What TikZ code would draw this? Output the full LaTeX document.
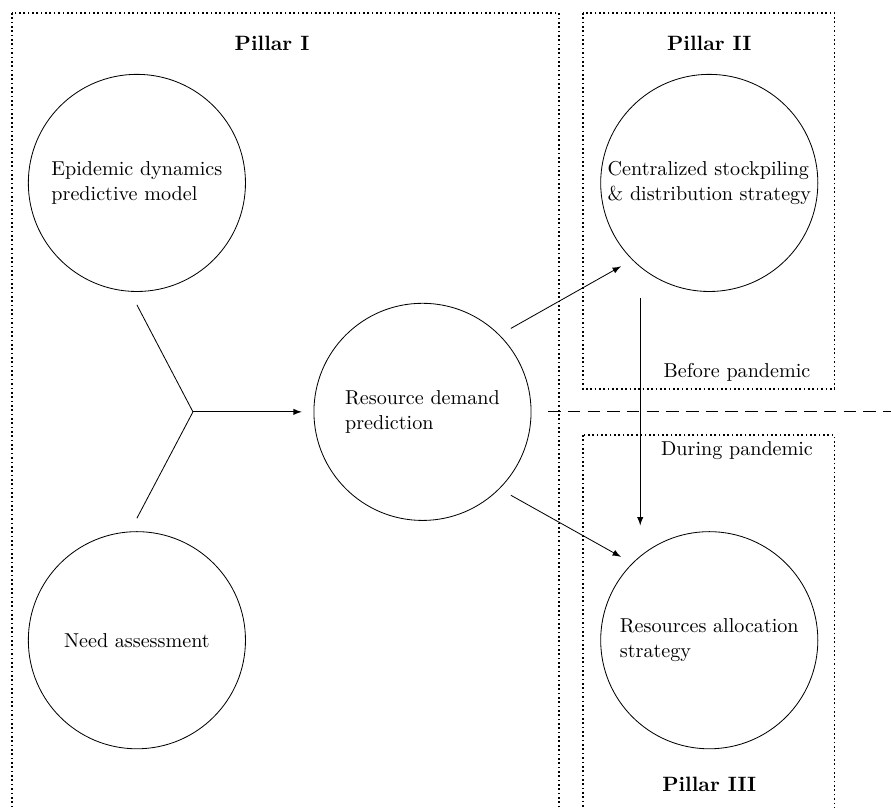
\documentclass[tikz,border=0pt]{standalone}
\usepackage{amsmath}
\usepackage{amssymb}
\begin{document}
\begin{tikzpicture}
	\tikzset{pillar/.style={draw,line width=0.8pt,dash pattern=on 0.8pt off 1.3pt},
		circ/.style={draw,circle,minimum size=3.68cm,inner sep=0pt,align=left,font=\fontsize{9.7}{12.2}\selectfont},
		link/.style={->,>=latex,shorten <=0.22cm,shorten >=0.22cm}}
	\useasboundingbox (0,0) rectangle (15.1,-13.69);
	% pillar boxes and time split
	\draw[pillar] (0.2,-0.22) rectangle (9.47,-14.2);
	\draw[pillar] (9.88,-0.22) rectangle (14.14,-6.59);
	\draw[pillar] (9.88,-7.37) rectangle (14.14,-14.2);
	\draw[dash pattern=on 6pt off 3.5pt] (9.29,-6.98) -- (15.3,-6.98);
	\node (t1) at (4.61,-0.73){\textbf{Pillar I}};
	\node (t2) at (12.02,-0.73){\textbf{Pillar II}};
	\node (t3) at (12.02,-13.29){\textbf{Pillar III}};
	\node[font=\fontsize{9.7}{12}\selectfont] (bp) at (12.49,-6.31){Before pandemic};
	\node[font=\fontsize{9.7}{12}\selectfont] (dp) at (12.49,-7.64){During pandemic};
	% models
	\node[circ] (epi) at (2.32,-3.10){Epidemic dynamics\\predictive model};
	\node[circ] (need) at (2.32,-10.85){Need assessment};
	\node[circ] (dem) at (7.16,-6.98){Resource demand\\prediction};
	\node[circ] (stock) at (12.02,-3.10){Centralized stockpiling\\\& distribution strategy};
	\node[circ] (alloc) at (12.02,-10.85){Resources allocation\\strategy};
	\coordinate (j) at (3.27,-6.98);
	\draw ([yshift=-0.22cm]epi.south) edge (j);
	\draw ([yshift=0.22cm]need.north) edge (j);
	\draw (j) edge [->,>=latex,shorten >=0.2cm] (dem);
	\draw (dem.45) edge [link] (stock.225);
	\draw (dem.-45) edge [link] (alloc.135);
	\draw ([xshift=-1.17cm]stock.south) edge [->,>=latex,shorten <=0.1cm,shorten >=0.1cm] ([xshift=-1.17cm]alloc.north);
\end{tikzpicture}
\end{document}
